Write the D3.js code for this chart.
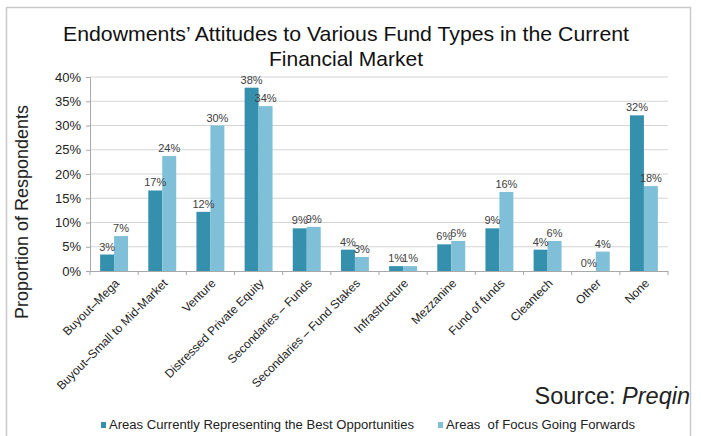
<!DOCTYPE html>
<html>
<head>
<meta charset="utf-8">
<script src="https://cdn.jsdelivr.net/npm/d3@7"></script>
<style>
  html, body { margin: 0; padding: 0; background: #fff; }
  svg { display: block; font-family: "Liberation Sans", Arial, sans-serif; }
</style>
</head>
<body>
<svg id="chart" width="701" height="436"></svg>
<script>
// Fund types surveyed
const categories = [
  "Buyout\u2013Mega",
  "Buyout\u2013Small to Mid-Market",
  "Venture",
  "Distressed Private Equity",
  "Secondaries \u2013 Funds",
  "Secondaries \u2013 Fund Stakes",
  "Infrastructure",
  "Mezzanine",
  "Fund of funds",
  "Cleantech",
  "Other",
  "None"
];

// Share of respondents (%)
const bestOpportunities = [3.4, 16.6, 12.2, 37.8, 8.8, 4.4, 1.0, 5.5, 8.8, 4.4, 0.0, 32.1];
const focusGoingForwards = [7.2, 23.7, 30.0, 34.0, 9.1, 2.9, 1.0, 6.2, 16.3, 6.2, 4.0, 17.5];

const seriesNames = [
  "Areas Currently Representing the Best Opportunities",
  "Areas  of Focus Going Forwards"
];
const yTicks = [0, 5, 10, 15, 20, 25, 30, 35, 40];

const colors = ["#3590ae", "#7fbfd7"];

const svg = d3.select("#chart");
const plot = { left: 90, right: 668, top: 77, bottom: 271 };

// Outer frame
svg.append("rect")
  .attr("x", 6.5).attr("y", 7.5)
  .attr("width", 684).attr("height", 440)
  .attr("fill", "none")
  .attr("stroke", "#c9c9c9")
  .attr("stroke-width", 1.5);

// Title
const title = svg.append("text")
  .attr("text-anchor", "middle")
  .attr("font-size", 21)
  .attr("fill", "#111");
title.append("tspan").attr("x", 346).attr("y", 41)
  .attr("textLength", 566).attr("lengthAdjust", "spacingAndGlyphs")
  .text("Endowments\u2019 Attitudes to Various Fund Types in the Current");
title.append("tspan").attr("x", 346).attr("y", 66)
  .text("Financial Market");

const x = d3.scaleBand()
  .domain(categories)
  .range([plot.left, plot.right]);

const y = d3.scaleLinear()
  .domain([0, 40])
  .range([plot.bottom, plot.top]);

const groupWidth = x.bandwidth() * 0.58;
const x1 = d3.scaleBand()
  .domain([0, 1])
  .range([0, groupWidth]);

// Gridlines
svg.append("g")
  .selectAll("line")
  .data(yTicks.filter(t => t > 0))
  .join("line")
  .attr("x1", plot.left).attr("x2", plot.right)
  .attr("y1", d => y(d)).attr("y2", d => y(d))
  .attr("stroke", "#d4d4d4")
  .attr("stroke-width", 1.2);

// Y axis
const yAxis = svg.append("g")
  .attr("transform", `translate(${plot.left},0)`)
  .call(d3.axisLeft(y).tickValues(yTicks).tickFormat(d => d + "%").tickSize(4).tickPadding(5));
yAxis.select(".domain").attr("stroke", "#a8a8a8");
yAxis.selectAll(".tick line").attr("stroke", "#a8a8a8");
yAxis.selectAll(".tick text")
  .attr("font-size", 13)
  .attr("font-family", "Liberation Sans, Arial, sans-serif")
  .attr("fill", "#222");

// Bars
const series = [bestOpportunities, focusGoingForwards];
const rows = [];
categories.forEach((c, i) => {
  series.forEach((s, k) => rows.push({ cat: c, k, v: s[i] }));
});

const barX = d => x(d.cat) + (x.bandwidth() - groupWidth) / 2 + x1(d.k);

svg.append("g")
  .selectAll("rect")
  .data(rows)
  .join("rect")
  .attr("x", barX)
  .attr("y", d => y(d.v))
  .attr("width", x1.bandwidth())
  .attr("height", d => plot.bottom - y(d.v))
  .attr("fill", d => colors[d.k]);

// X axis with tick marks between categories
const xAxisG = svg.append("g");
xAxisG.append("line")
  .attr("x1", plot.left).attr("x2", plot.right)
  .attr("y1", plot.bottom + 0.5).attr("y2", plot.bottom + 0.5)
  .attr("stroke", "#a8a8a8");
xAxisG.selectAll("line.tk")
  .data(categories.map(c => x(c)).concat([plot.right]))
  .join("line")
  .attr("class", "tk")
  .attr("x1", d => d).attr("x2", d => d)
  .attr("y1", plot.bottom).attr("y2", plot.bottom + 4)
  .attr("stroke", "#a8a8a8");

// Category labels, rotated
svg.append("g")
  .selectAll("text")
  .data(categories)
  .join("text")
  .attr("transform", d => `translate(${x(d) + x.bandwidth() / 2 + 6},${plot.bottom + 13}) rotate(-45)`)
  .attr("text-anchor", "end")
  .attr("font-size", 12)
  .attr("fill", "#222")
  .text(d => d);

// Value labels
svg.append("g")
  .selectAll("text")
  .data(rows)
  .join("text")
  .attr("x", d => barX(d) + x1.bandwidth() / 2)
  .attr("y", d => y(d.v) - 4)
  .attr("text-anchor", "middle")
  .attr("font-size", 11)
  .attr("fill", "#404040")
  .text(d => Math.round(d.v) + "%");

// Y axis title
svg.append("text")
  .attr("transform", "translate(28,212) rotate(-90)")
  .attr("text-anchor", "middle")
  .attr("font-size", 18)
  .attr("fill", "#222")
  .text("Proportion of Respondents");

// Source
const src = svg.append("text")
  .attr("x", 690).attr("y", 404)
  .attr("text-anchor", "end")
  .attr("font-size", 23.5)
  .attr("fill", "#222");
src.append("tspan").text("Source: ");
src.append("tspan").attr("font-style", "italic").text("Preqin");

// Legend
const legendX = [101, 438];
const legendLen = [305, 189];
const legend = svg.append("g");
seriesNames.forEach((name, k) => {
  legend.append("rect")
    .attr("x", legendX[k]).attr("y", 422)
    .attr("width", 5).attr("height", 6)
    .attr("fill", colors[k]);
  legend.append("text")
    .attr("x", legendX[k] + 8).attr("y", 429)
    .attr("font-size", 12)
    .attr("fill", "#222")
    .attr("textLength", legendLen[k])
    .attr("lengthAdjust", "spacingAndGlyphs")
    .style("white-space", "pre")
    .text(name);
});
</script>
</body>
</html>
